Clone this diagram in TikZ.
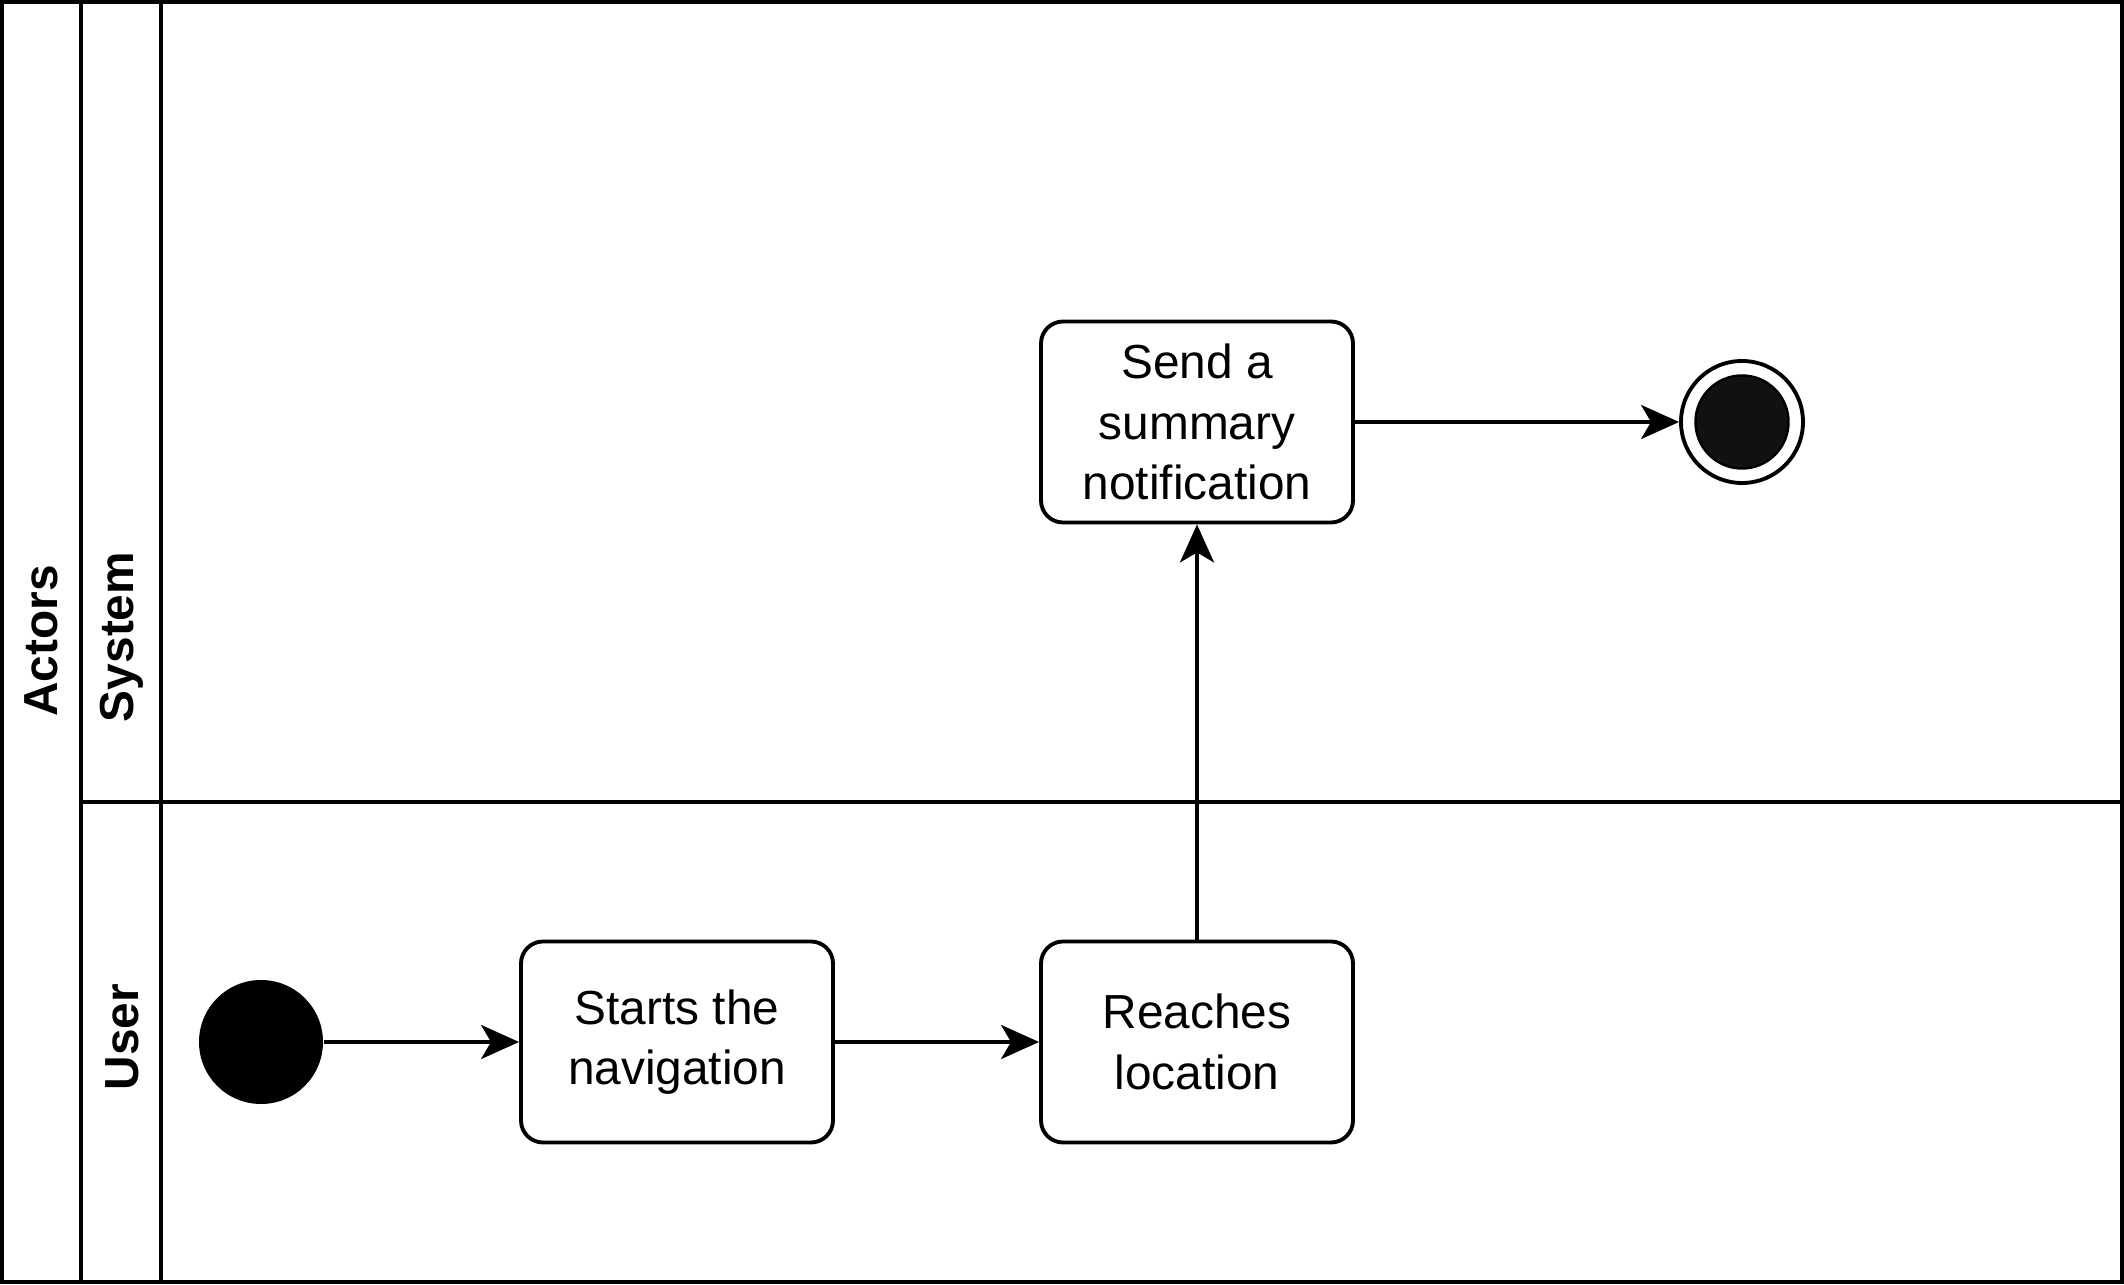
\documentclass[tikz,border=0pt]{standalone}
\usepackage{fontspec}
\setmainfont{Liberation Sans}
\usepackage{xcolor}
\usetikzlibrary{arrows.meta, positioning}

\definecolor{endfill}{HTML}{111111}

\tikzset{
    lane/.style={line width=1.1pt},
    lanelabel/.style={rotate=90, font=\fontsize{13.6}{17}\selectfont\bfseries},
    actbox/.style={draw, line width=1.1pt, rounded corners=0.22cm, fill=white,
        minimum width=3.12cm, minimum height=2.01cm, align=center,
        font=\fontsize{13.6}{17.2}\selectfont},
    flow/.style={-{Stealth[length=0.38cm, width=0.34cm, inset=0.1cm]}, line width=1.1pt},
}

\begin{document}
\begin{tikzpicture}
        \useasboundingbox (0,0) rectangle (21.24,12.84);

        % --- Pool and lanes ---
        \draw[lane] (0.02,0.02) rectangle (21.22,12.82);
        \draw[lane] (0.81,0.02) -- (0.81,12.82);
        \draw[lane] (1.61,0.02) -- (1.61,12.82);
        \draw[lane] (0.81,4.82) -- (21.22,4.82);
        \node[lanelabel] (actors) at (0.41, 6.43) {Actors};
        \node[lanelabel] (system) at (1.22, 6.47) {System};
        \node[lanelabel] (user) at (1.22, 2.47) {User};

        % --- Start node ---
        \node[circle, fill=black, minimum size=1.24cm, inner sep=0pt] (start) at (2.61, 2.42) {};

        % --- Actions ---
        \node[actbox] (navigate) at (6.77, 2.42) {Starts the\\navigation};
        \node[actbox] (reach) at (11.97, 2.42) {Reaches\\location};
        \node[actbox] (notify) at (11.97, 8.62) {Send a\\summary\\notification};

        % --- End node ---
        \node[circle, draw, line width=1.1pt, fill=white, minimum size=1.22cm, inner sep=0pt] (finish) at (17.42, 8.62) {};
        \fill[endfill, draw=black, line width=0.7pt] (finish.center) circle (0.465);

        % --- Transitions ---
        \draw[flow] (start) -- (navigate);
        \draw[flow] (navigate) -- (reach);
        \draw[flow] (reach) -- (notify);
        \draw[flow] (notify) -- (finish);
    \end{tikzpicture}
\end{document}
